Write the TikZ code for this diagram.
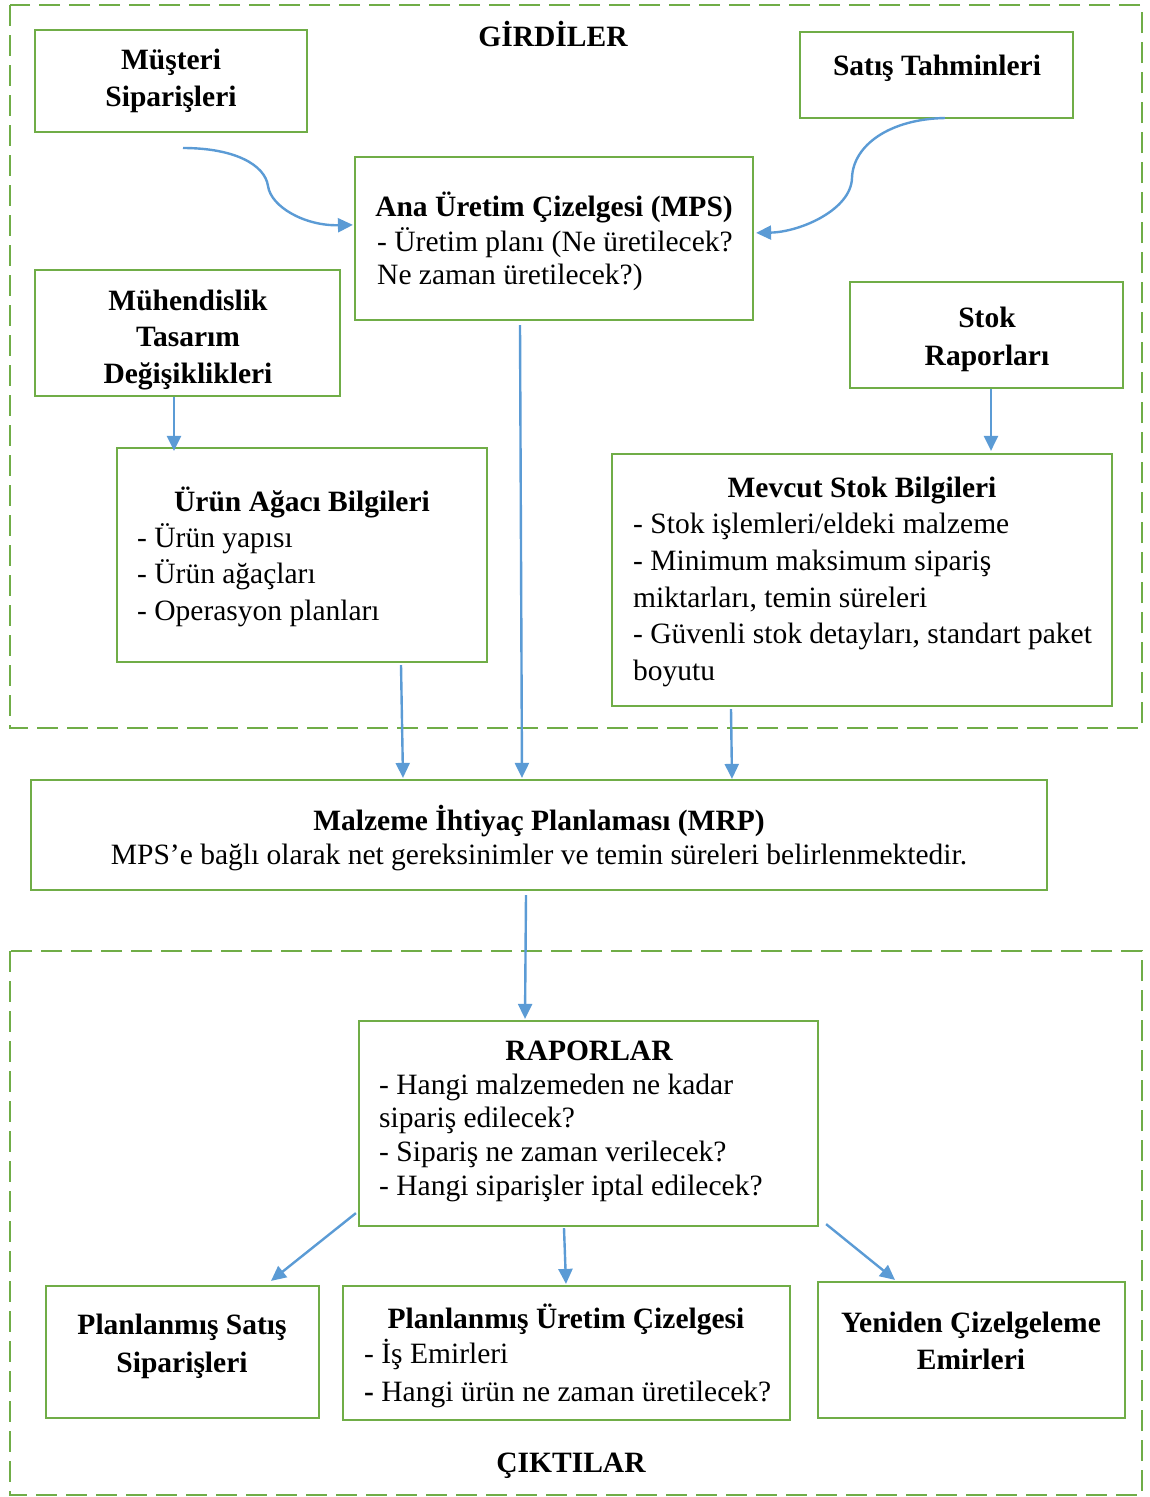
\documentclass[tikz,border=0pt]{standalone}
\usepackage{fontspec}
\setmainfont{Liberation Serif}
\usetikzlibrary{arrows.meta,calc}
\definecolor{boxgreen}{HTML}{70AD47}
\definecolor{arrblue}{HTML}{5B9BD5}
\begin{document}
\begin{tikzpicture}[x=1pt,y=-1pt,
  box/.style={draw=boxgreen,line width=2.2pt,rectangle,inner sep=0pt},
  group/.style={draw=boxgreen,line width=2.2pt,dash pattern=on 21pt off 9pt},
  txt/.style={inner sep=0pt,font=\fontsize{29.5}{34}\selectfont},
  ttl/.style={txt,font=\fontsize{29.5}{34}\selectfont\bfseries,anchor=base},
  itm/.style={txt,anchor=base west},
  arr/.style={draw=arrblue,line width=2.4pt,-{Triangle[length=15pt,width=14pt]}}]
\useasboundingbox (0,0) rectangle (1149,1497);

% input and output groups
\draw[group] (10,5) rectangle (1142,728);
\draw[group] (10,951) rectangle (1142,1495);
\node[ttl] (gtitle) at (553,46) {GİRDİLER};
\node[ttl] (ctitle) at (571,1472) {ÇIKTILAR};

% boxes
\node[box,minimum width=272pt,minimum height=102pt] (mus) at (171,81) {};
\node[box,minimum width=273pt,minimum height=86pt] (sat) at (936.5,75) {};
\node[box,minimum width=398pt,minimum height=163pt] (mps) at (554,238.5) {};
\node[box,minimum width=305pt,minimum height=126pt] (muh) at (187.5,333) {};
\node[box,minimum width=273pt,minimum height=106pt] (stok) at (986.5,335) {};
\node[box,minimum width=370pt,minimum height=214pt] (urun) at (302,555) {};
\node[box,minimum width=500pt,minimum height=252pt] (mev) at (862,580) {};
\node[box,minimum width=1016pt,minimum height=110pt] (mrp) at (539,835) {};
\node[box,minimum width=459pt,minimum height=205pt] (rap) at (588.5,1123.5) {};
\node[box,minimum width=273pt,minimum height=132pt] (pss) at (182.5,1352) {};
\node[box,minimum width=447pt,minimum height=134pt] (pue) at (566.5,1353) {};
\node[box,minimum width=307pt,minimum height=136pt] (yen) at (971.5,1350) {};

% texts
\node[ttl] (mus1) at (171,69) {Müşteri};
\node[ttl] (mus2) at (171,106) {Siparişleri};
\node[ttl] (sat1) at (937,75) {Satış Tahminleri};

\node[ttl] (mps1) at (554,216) {Ana Üretim Çizelgesi (MPS)};
\node[itm] (mps2) at (377,251) {- Üretim planı (Ne üretilecek?};
\node[itm] (mps3) at (377,284) {Ne zaman üretilecek?)};

\node[ttl] (muh1) at (188,310) {Mühendislik};
\node[ttl] (muh2) at (188,346) {Tasarım};
\node[ttl] (muh3) at (188,383) {Değişiklikleri};

\node[ttl] (stok1) at (987,327) {Stok};
\node[ttl] (stok2) at (987,365) {Raporları};

\node[ttl] (urun1) at (302,511) {Ürün Ağacı Bilgileri};
\node[itm] (urun2) at (137,547) {- Ürün yapısı};
\node[itm] (urun3) at (137,583) {- Ürün ağaçları};
\node[itm] (urun4) at (137,620) {- Operasyon planları};

\node[ttl] (mev1) at (862,497) {Mevcut Stok Bilgileri};
\node[itm] (mev2) at (633,533) {- Stok işlemleri/eldeki malzeme};
\node[itm] (mev3) at (633,570) {- Minimum maksimum sipariş};
\node[itm] (mev4) at (633,607) {miktarları, temin süreleri};
\node[itm] (mev5) at (633,643) {- Güvenli stok detayları, standart paket};
\node[itm] (mev6) at (633,680) {boyutu};

\node[ttl] (mrp1) at (539,830) {Malzeme İhtiyaç Planlaması (MRP)};
\node[txt,anchor=base] (mrp2) at (539,864) {MPS’e bağlı olarak net gereksinimler ve temin süreleri belirlenmektedir.};

\node[ttl] (rap1) at (589,1060) {RAPORLAR};
\node[itm] (rap2) at (379,1094) {- Hangi malzemeden ne kadar};
\node[itm] (rap3) at (379,1127) {sipariş edilecek?};
\node[itm] (rap4) at (379,1161) {- Sipariş ne zaman verilecek?};
\node[itm] (rap5) at (379,1195) {- Hangi siparişler iptal edilecek?};

\node[ttl] (pss1) at (182,1334) {Planlanmış Satış};
\node[ttl] (pss2) at (182,1372) {Siparişleri};

\node[ttl] (pue1) at (566,1328) {Planlanmış Üretim Çizelgesi};
\node[itm] (pue2) at (364,1363) {- İş Emirleri};
\node[itm] (pue3) at (364,1401) {\textbf{-} Hangi ürün ne zaman üretilecek?};

\node[ttl] (yen1) at (971,1332) {Yeniden Çizelgeleme};
\node[ttl] (yen2) at (971,1369) {Emirleri};

% connectors
\coordinate (musend) at (183,148);
\draw[arr] (musend) .. controls (235,148) and (265,165) .. (268,186)
  .. controls (271,207) and (305,226) .. ($(mps.north west)+(-1,69)$);
\coordinate (satend) at (945,118);
\draw[arr] (satend) .. controls (890,119) and (853,145) .. (852,178)
  .. controls (851,210) and (800,232) .. ($(mps.north east)+(2,77)$);

\draw[arr] ($(muh.south)+(-13.5,0)$) -- ($(urun.north)+(-128,4)$);
\draw[arr] ($(stok.south)+(4.5,0)$) -- ($(mev.north)+(129,-2)$);
\draw[arr] ($(mps.south)+(-34,4)$) -- ($(mrp.north)+(-17,-1)$);
\draw[arr] ($(urun.south)+(99,2)$) -- ($(mrp.north)+(-136,-1)$);
\draw[arr] ($(mev.south)+(-131,2)$) -- ($(mrp.north)+(193,0)$);
\draw[arr] ($(mrp.south)+(-13,4)$) -- ($(rap.north)+(-63.5,-1)$);
\draw[arr] ($(rap.south west)+(-2,-14)$) -- ($(pss.north)+(88.5,-4)$);
\draw[arr] ($(rap.south)+(-24.5,1)$) -- ($(pue.north)+(-0.5,-1)$);
\draw[arr] ($(rap.south east)+(7,-3)$) -- ($(yen.north)+(-76.5,-1)$);
\end{tikzpicture}
\end{document}
